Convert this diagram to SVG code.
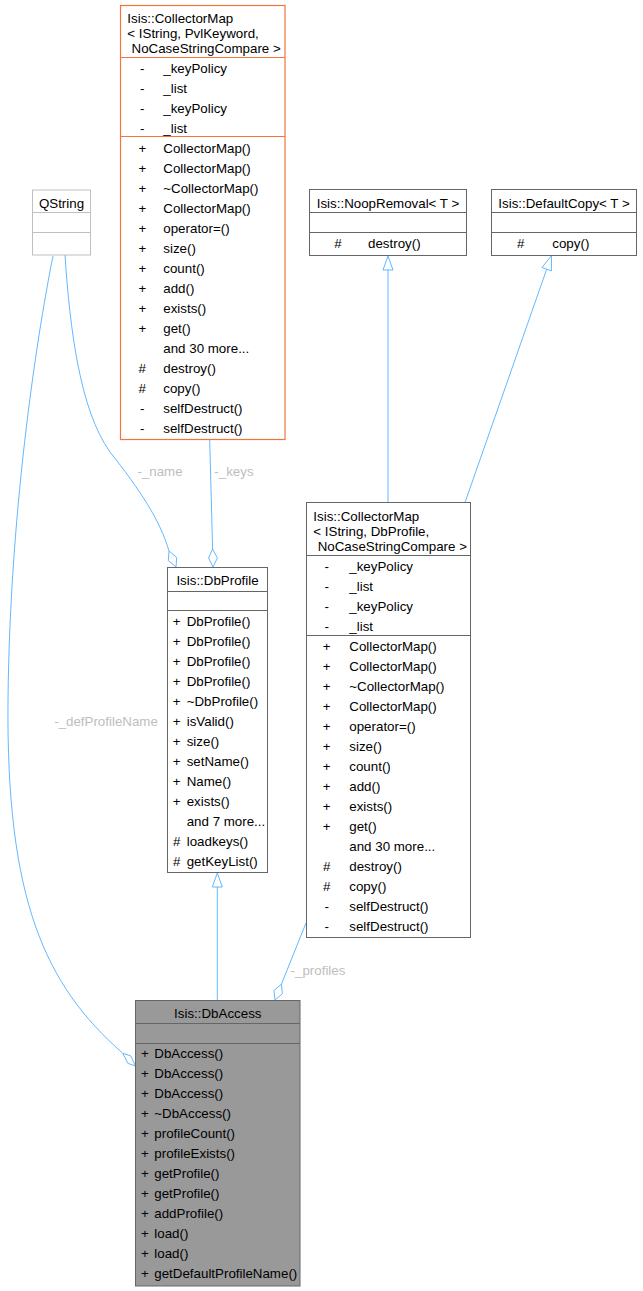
<svg xmlns="http://www.w3.org/2000/svg" width="643" height="1291" viewBox="0 0 643 1291">
<defs>
<style>
text{font-family:"Liberation Sans",Arial,sans-serif;font-size:13.33px;fill:#000}
.box{fill:#fff;stroke:#666;stroke-width:1}
.hl{fill:#999;stroke:#666;stroke-width:1}
.trunc{fill:#fff;stroke:#f4743f;stroke-width:1.2}
.undoc{fill:#fff;stroke:#bfbfbf;stroke-width:1}
.sep{stroke:#666;stroke-width:1}
.sepT{stroke:#f4743f;stroke-width:1.2}
.sepU{stroke:#bfbfbf;stroke-width:1}
.m{text-anchor:middle}
.edge{fill:none;stroke:#63b8ff;stroke-width:1}
.head{fill:#fff;stroke:#63b8ff;stroke-width:1}
.lbl{fill:#bebebe;text-anchor:middle}
</style>
</defs>
<rect width="643" height="1291" fill="#fff"/>

<g id="connectors">
<!-- QString -> DbAccess -->
<path class="edge" d="M53,256 C40,320 10,500 8,700 C6,900 45,985 122.5,1053"/>
<polygon class="head" points="135.5,1066 127.9,1063.4 122.8,1053.3 130.7,1055.9"/>
<text class="lbl" x="106" y="725.7">-_defProfileName</text>
<!-- QString -> DbProfile -->
<path class="edge" d="M65,255 C70,330 80,410 110,452 C140,490 160,520 169,551"/>
<polygon class="head" points="176,567 168.3,560.6 169,551 176.7,557.4"/>
<text class="lbl" x="160" y="476.4">-_name</text>
<!-- CollectorMap<PvlKeyword> -> DbProfile -->
<path class="edge" d="M209.7,440 L212.6,549"/>
<polygon class="head" points="213,567 208.6,558 212.6,549 217.4,558"/>
<text class="lbl" x="234" y="476.4">-_keys</text>
<!-- DbProfile -> DbAccess (inheritance) -->
<path class="edge" d="M217.3,887 L217.3,1000.5"/>
<polygon class="head" points="217.3,873 222.3,887 212.3,887"/>
<!-- CollectorMap<DbProfile> -> DbAccess -->
<path class="edge" d="M306,923 L281.4,984.2"/>
<polygon class="head" points="275,1000 274,990.5 281.4,984.2 282.4,993.7"/>
<text class="lbl" x="318" y="974.7">-_profiles</text>
<!-- NoopRemoval -> CollectorMap<DbProfile> -->
<path class="edge" d="M388,270 L388,502.5"/>
<polygon class="head" points="388,256 393,270 383,270"/>
<!-- DefaultCopy -> CollectorMap<DbProfile> -->
<path class="edge" d="M546.7,269.2 L465,502.5"/>
<polygon class="head" points="551.5,255.5 551.4,270.9 542,267.5"/>
</g>

<g id="node_collectormap_pvl">
<rect class="trunc" x="120.5" y="5.5" width="164.5" height="434"/>
<line class="sepT" x1="120.5" y1="57.5" x2="285" y2="57.5"/>
<line class="sepT" x1="120.5" y1="136.5" x2="285" y2="136.5"/>
<text x="127.3" y="23">Isis::CollectorMap</text>
<text x="127.3" y="38">&lt; IString, PvlKeyword,</text>
<text x="131.5" y="53">NoCaseStringCompare &gt;</text>
<text class="m" x="142.3" y="72.5">-</text><text x="163.3" y="72.5">_keyPolicy</text>
<text class="m" x="142.3" y="92.5">-</text><text x="163.3" y="92.5">_list</text>
<text class="m" x="142.3" y="112.5">-</text><text x="163.3" y="112.5">_keyPolicy</text>
<text class="m" x="142.3" y="132.5">-</text><text x="163.3" y="132.5">_list</text>
<text class="m" x="142.3" y="152.5">+</text><text x="163.3" y="152.5">CollectorMap()</text>
<text class="m" x="142.3" y="172.5">+</text><text x="163.3" y="172.5">CollectorMap()</text>
<text class="m" x="142.3" y="192.5">+</text><text x="163.3" y="192.5">~CollectorMap()</text>
<text class="m" x="142.3" y="212.5">+</text><text x="163.3" y="212.5">CollectorMap()</text>
<text class="m" x="142.3" y="232.5">+</text><text x="163.3" y="232.5">operator=()</text>
<text class="m" x="142.3" y="252.5">+</text><text x="163.3" y="252.5">size()</text>
<text class="m" x="142.3" y="272.5">+</text><text x="163.3" y="272.5">count()</text>
<text class="m" x="142.3" y="292.5">+</text><text x="163.3" y="292.5">add()</text>
<text class="m" x="142.3" y="312.5">+</text><text x="163.3" y="312.5">exists()</text>
<text class="m" x="142.3" y="332.5">+</text><text x="163.3" y="332.5">get()</text>
<text x="163.3" y="352.5">and 30 more...</text>
<text class="m" x="142.3" y="372.5">#</text><text x="163.3" y="372.5">destroy()</text>
<text class="m" x="142.3" y="392.5">#</text><text x="163.3" y="392.5">copy()</text>
<text class="m" x="142.3" y="412.5">-</text><text x="163.3" y="412.5">selfDestruct()</text>
<text class="m" x="142.3" y="432.5">-</text><text x="163.3" y="432.5">selfDestruct()</text>
</g>

<g id="node_qstring">
<rect class="undoc" x="32.5" y="190" width="58" height="65"/>
<line class="sepU" x1="32.5" y1="212.5" x2="90.5" y2="212.5"/>
<line class="sepU" x1="32.5" y1="232.5" x2="90.5" y2="232.5"/>
<text class="m" x="61.5" y="208">QString</text>
</g>

<g id="node_noopremoval">
<rect class="box" x="309.5" y="189.5" width="157" height="66"/>
<line class="sep" x1="309.5" y1="212.5" x2="466.5" y2="212.5"/>
<line class="sep" x1="309.5" y1="232.5" x2="466.5" y2="232.5"/>
<text class="m" x="388" y="208">Isis::NoopRemoval&lt; T &gt;</text>
<text class="m" x="338" y="248">#</text><text x="368" y="248">destroy()</text>
</g>

<g id="node_defaultcopy">
<rect class="box" x="491.5" y="189.5" width="145" height="66"/>
<line class="sep" x1="491.5" y1="212.5" x2="636.5" y2="212.5"/>
<line class="sep" x1="491.5" y1="232.5" x2="636.5" y2="232.5"/>
<text class="m" x="564" y="208">Isis::DefaultCopy&lt; T &gt;</text>
<text class="m" x="520.7" y="248">#</text><text x="552.3" y="248">copy()</text>
</g>

<g id="node_collectormap_dbprofile">
<rect class="box" x="306.5" y="502.5" width="164" height="435"/>
<line class="sep" x1="306.5" y1="555.5" x2="470.5" y2="555.5"/>
<line class="sep" x1="306.5" y1="635.5" x2="470.5" y2="635.5"/>
<text x="313.3" y="521.4">Isis::CollectorMap</text>
<text x="313.3" y="536.4">&lt; IString, DbProfile,</text>
<text x="317.7" y="551.4">NoCaseStringCompare &gt;</text>
<text class="m" x="326.7" y="570.7">-</text><text x="349.3" y="570.7">_keyPolicy</text>
<text class="m" x="326.7" y="590.7">-</text><text x="349.3" y="590.7">_list</text>
<text class="m" x="326.7" y="610.7">-</text><text x="349.3" y="610.7">_keyPolicy</text>
<text class="m" x="326.7" y="630.7">-</text><text x="349.3" y="630.7">_list</text>
<text class="m" x="326.7" y="650.7">+</text><text x="349.3" y="650.7">CollectorMap()</text>
<text class="m" x="326.7" y="670.7">+</text><text x="349.3" y="670.7">CollectorMap()</text>
<text class="m" x="326.7" y="690.7">+</text><text x="349.3" y="690.7">~CollectorMap()</text>
<text class="m" x="326.7" y="710.7">+</text><text x="349.3" y="710.7">CollectorMap()</text>
<text class="m" x="326.7" y="730.7">+</text><text x="349.3" y="730.7">operator=()</text>
<text class="m" x="326.7" y="750.7">+</text><text x="349.3" y="750.7">size()</text>
<text class="m" x="326.7" y="770.7">+</text><text x="349.3" y="770.7">count()</text>
<text class="m" x="326.7" y="790.7">+</text><text x="349.3" y="790.7">add()</text>
<text class="m" x="326.7" y="810.7">+</text><text x="349.3" y="810.7">exists()</text>
<text class="m" x="326.7" y="830.7">+</text><text x="349.3" y="830.7">get()</text>
<text x="349.3" y="850.7">and 30 more...</text>
<text class="m" x="326.7" y="870.7">#</text><text x="349.3" y="870.7">destroy()</text>
<text class="m" x="326.7" y="890.7">#</text><text x="349.3" y="890.7">copy()</text>
<text class="m" x="326.7" y="910.7">-</text><text x="349.3" y="910.7">selfDestruct()</text>
<text class="m" x="326.7" y="930.7">-</text><text x="349.3" y="930.7">selfDestruct()</text>
</g>

<g id="node_dbprofile">
<rect class="box" x="167.5" y="567.5" width="100" height="305"/>
<line class="sep" x1="167.5" y1="591.5" x2="267.5" y2="591.5"/>
<line class="sep" x1="167.5" y1="610.5" x2="267.5" y2="610.5"/>
<text class="m" x="217.5" y="585.4">Isis::DbProfile</text>
<text class="m" x="176.7" y="626.4">+</text><text x="186.7" y="626.4">DbProfile()</text>
<text class="m" x="176.7" y="646.4">+</text><text x="186.7" y="646.4">DbProfile()</text>
<text class="m" x="176.7" y="666.4">+</text><text x="186.7" y="666.4">DbProfile()</text>
<text class="m" x="176.7" y="686.4">+</text><text x="186.7" y="686.4">DbProfile()</text>
<text class="m" x="176.7" y="706.4">+</text><text x="186.7" y="706.4">~DbProfile()</text>
<text class="m" x="176.7" y="726.4">+</text><text x="186.7" y="726.4">isValid()</text>
<text class="m" x="176.7" y="746.4">+</text><text x="186.7" y="746.4">size()</text>
<text class="m" x="176.7" y="766.4">+</text><text x="186.7" y="766.4">setName()</text>
<text class="m" x="176.7" y="786.4">+</text><text x="186.7" y="786.4">Name()</text>
<text class="m" x="176.7" y="806.4">+</text><text x="186.7" y="806.4">exists()</text>
<text x="186.7" y="826.4">and 7 more...</text>
<text class="m" x="176.7" y="846.4">#</text><text x="186.7" y="846.4">loadkeys()</text>
<text class="m" x="176.7" y="866.4">#</text><text x="186.7" y="866.4">getKeyList()</text>
</g>

<g id="node_dbaccess">
<rect class="hl" x="135.5" y="1000.5" width="164.5" height="285.5"/>
<line class="sep" x1="135.5" y1="1023.5" x2="300" y2="1023.5"/>
<line class="sep" x1="135.5" y1="1043.5" x2="300" y2="1043.5"/>
<text class="m" x="217.8" y="1018">Isis::DbAccess</text>
<text class="m" x="145" y="1058">+</text><text x="154.3" y="1058">DbAccess()</text>
<text class="m" x="145" y="1078">+</text><text x="154.3" y="1078">DbAccess()</text>
<text class="m" x="145" y="1098">+</text><text x="154.3" y="1098">DbAccess()</text>
<text class="m" x="145" y="1118">+</text><text x="154.3" y="1118">~DbAccess()</text>
<text class="m" x="145" y="1138">+</text><text x="154.3" y="1138">profileCount()</text>
<text class="m" x="145" y="1158">+</text><text x="154.3" y="1158">profileExists()</text>
<text class="m" x="145" y="1178">+</text><text x="154.3" y="1178">getProfile()</text>
<text class="m" x="145" y="1198">+</text><text x="154.3" y="1198">getProfile()</text>
<text class="m" x="145" y="1218">+</text><text x="154.3" y="1218">addProfile()</text>
<text class="m" x="145" y="1238">+</text><text x="154.3" y="1238">load()</text>
<text class="m" x="145" y="1258">+</text><text x="154.3" y="1258">load()</text>
<text class="m" x="145" y="1278">+</text><text x="154.3" y="1278">getDefaultProfileName()</text>
</g>
</svg>
